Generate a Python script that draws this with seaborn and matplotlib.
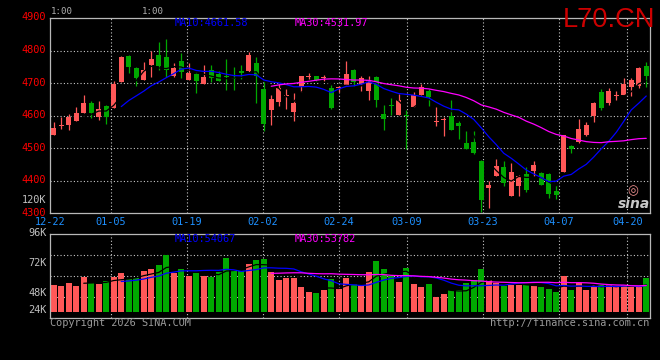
import numpy as np
import pandas as pd
import matplotlib
matplotlib.use("Agg")
import matplotlib.pyplot as plt
from matplotlib.transforms import ScaledTranslation
import seaborn as sns

# ============================
# DATA
# ============================
DATES = ["12-22", "01-05", "01-19", "02-02", "02-24", "03-09", "03-23", "04-07", "04-20"]
DATE_IDX = [0, 8, 18, 28, 38, 47, 57, 67, 76]

OPEN = [4540, 4569, 4570, 4583, 4607, 4640, 4596, 4630, 4623, 4703,
        4783, 4746, 4711, 4756, 4787, 4781, 4723, 4769, 4708, 4727,
        4696, 4739, 4727, 4723, 4717, 4737, 4737, 4761, 4681, 4616,
        4642, 4660, 4611, 4688, 4720, 4721, 4715, 4685, 4684, 4693,
        4739, 4693, 4677, 4718, 4604, 4631, 4601, 4600, 4626, 4664,
        4677, 4580, 4587, 4598, 4577, 4516, 4519, 4461, 4379, 4415,
        4441, 4354, 4385, 4420, 4430, 4424, 4420, 4369, 4428, 4506,
        4519, 4540, 4598, 4674, 4640, 4661, 4662, 4688, 4691, 4754]
HIGH = [4579, 4596, 4606, 4626, 4662, 4644, 4644, 4634, 4705, 4783,
        4785, 4749, 4766, 4800, 4827, 4834, 4762, 4792, 4762, 4734,
        4756, 4757, 4738, 4774, 4749, 4757, 4795, 4779, 4705, 4662,
        4698, 4681, 4669, 4723, 4732, 4721, 4726, 4693, 4693, 4767,
        4742, 4723, 4723, 4723, 4632, 4654, 4665, 4616, 4672, 4698,
        4681, 4626, 4596, 4647, 4583, 4552, 4552, 4463, 4399, 4466,
        4461, 4455, 4417, 4443, 4460, 4428, 4425, 4387, 4542, 4509,
        4591, 4579, 4642, 4681, 4685, 4677, 4715, 4715, 4749, 4764]
LOW = [4540, 4558, 4555, 4583, 4607, 4593, 4586, 4575, 4623, 4703,
       4732, 4691, 4711, 4720, 4739, 4718, 4720, 4716, 4708, 4670,
       4696, 4703, 4705, 4680, 4680, 4713, 4734, 4640, 4553, 4572,
       4630, 4619, 4583, 4674, 4713, 4706, 4706, 4619, 4674, 4691,
       4691, 4677, 4647, 4626, 4555, 4601, 4601, 4499, 4626, 4662,
       4630, 4568, 4538, 4555, 4528, 4499, 4481, 4305, 4317, 4415,
       4385, 4354, 4354, 4366, 4414, 4387, 4346, 4344, 4428, 4484,
       4516, 4538, 4581, 4616, 4634, 4647, 4662, 4660, 4685, 4688]
CLOSE = [4563, 4571, 4596, 4609, 4638, 4607, 4621, 4596, 4697, 4780,
         4749, 4715, 4741, 4774, 4754, 4739, 4746, 4734, 4731, 4706,
         4720, 4716, 4706, 4720, 4714, 4731, 4787, 4723, 4573, 4652,
         4685, 4663, 4639, 4721, 4723, 4711, 4718, 4623, 4687, 4728,
         4703, 4715, 4711, 4647, 4590, 4629, 4647, 4598, 4662, 4688,
         4657, 4583, 4590, 4555, 4568, 4499, 4484, 4341, 4387, 4446,
         4392, 4428, 4414, 4371, 4448, 4387, 4359, 4356, 4540, 4499,
         4560, 4570, 4639, 4623, 4677, 4664, 4696, 4708, 4746, 4721]
# volume in thousands
VOLUME_K = [55.4, 54.4, 57.0, 54.4, 61.8, 56.5, 55.7, 58.1, 61.8, 65.0,
            59.7, 60.5, 66.4, 68.2, 71.4, 79.4, 64.5, 68.2, 62.4, 65.0,
            62.4, 61.8, 65.8, 76.8, 67.2, 66.4, 72.2, 75.2, 76.2, 65.6,
            59.2, 60.8, 60.8, 53.8, 49.6, 49.0, 51.2, 60.2, 51.7, 60.5,
            55.7, 55.2, 65.6, 74.4, 68.0, 62.4, 57.6, 68.8, 56.0, 53.6,
            56.0, 45.6, 48.0, 51.2, 51.2, 56.8, 59.2, 68.0, 59.2, 56.8,
            54.4, 55.2, 55.2, 55.2, 54.1, 53.8, 51.7, 49.6, 62.4, 51.2,
            56.5, 51.2, 54.9, 54.9, 54.9, 53.3, 54.9, 53.8, 53.8, 60.8]

PRICE_TICKS = [4300, 4400, 4500, 4600, 4700, 4800, 4900]
VOL_TICKS = [48, 72, 96]
VOL_FLOOR = 33.6   # level the volume bars start from

df = pd.DataFrame({"open": OPEN, "high": HIGH, "low": LOW,
                   "close": CLOSE, "vol": VOLUME_K})
df["idx"] = np.arange(len(df))
N = len(df)
for w in (5, 10, 30):
    df[f"ma{w}"] = df["close"].rolling(w).mean()
    df[f"vma{w}"] = df["vol"].rolling(w).mean()

RED = "#FF5858"
GREEN = "#00A800"
GRID = "#C8C8C8"
up = df["close"] >= df["open"]
cols = np.where(up, RED, GREEN)

# ============================
# STYLE
# ============================
sns.set_theme(style="dark", rc={
    "figure.facecolor": "black", "axes.facecolor": "black",
    "savefig.facecolor": "black", "axes.edgecolor": "#B8B8B8",
    "axes.linewidth": 0.9, "axes.grid": False,
})
plt.rcParams["font.family"] = ["DejaVu Sans Mono"]

W, H = 660, 360
fig = plt.figure(figsize=(W / 100, H / 100), dpi=100)


def fx(x):
    return x / W


def fy(y):
    return 1 - y / H


ax = fig.add_axes([fx(50), fy(213.3), 600 / W, 195.3 / H])
axv = fig.add_axes([fx(50), fy(318), 600 / W, 84 / H])

grid_pos = [k * N / (N - 1) - 0.5 for k in DATE_IDX]
dot = (0, (1, 2))

# ============================
# PRICE PANEL
# ============================
ax.set_xlim(-0.5, N - 0.5)
ax.set_ylim(4300, 4900)
for p in PRICE_TICKS[1:-1]:
    ax.axhline(p, color=GRID, lw=0.8, ls=dot, zorder=0)
for g in grid_pos[1:]:
    ax.axvline(g, color=GRID, lw=0.8, ls=dot, zorder=0)

ax.vlines(df["idx"], df["low"], df["high"], colors=cols, lw=0.9, zorder=2)
body_lo = np.minimum(df["open"], df["close"])
body_h = np.maximum((df["close"] - df["open"]).abs(), 3)
ax.bar(df["idx"], body_h, bottom=body_lo, width=0.72, color=cols,
       lw=0, zorder=3)

for col, c in (("ma5", "black"), ("ma10", "#0000FF"), ("ma30", "#FF00FF")):
    d = df[["idx", col]].dropna()
    sns.lineplot(x=d["idx"], y=d[col], ax=ax, color=c, lw=0.9, zorder=4)

ax.set_yticks(PRICE_TICKS)
ax.set_yticklabels([str(p) for p in PRICE_TICKS], color="#FF0000", fontsize=7.4)
ax.set_xticks(grid_pos)
ax.set_xticklabels(DATES, color="#1E90FF", fontsize=7.4)
ax.tick_params(axis="y", length=0, pad=2.6)
ax.tick_params(axis="x", length=0, pad=2.6)
ax.set_xlabel("")
ax.set_ylabel("")

# ============================
# VOLUME PANEL
# ============================
axv.set_xlim(-0.5, N - 0.5)
axv.set_ylim(28.8, 96)
for f in (0.25, 0.5, 0.75):
    axv.plot([0, 1], [f, f], transform=axv.transAxes, color=GRID, lw=0.8,
             ls=dot, zorder=0)
for g in grid_pos[1:]:
    axv.axvline(g, color=GRID, lw=0.8, ls=dot, zorder=0)

axv.bar(df["idx"], df["vol"] - VOL_FLOOR, bottom=VOL_FLOOR, width=0.74,
        color=cols, lw=0, zorder=2)
for col, c in (("vma5", "black"), ("vma10", "#0000FF"), ("vma30", "#FF00FF")):
    d = df[["idx", col]].dropna()
    sns.lineplot(x=d["idx"], y=d[col], ax=axv, color=c, lw=0.9, zorder=4)

axv.set_yticks(VOL_TICKS)
axv.set_yticklabels([f"{v}K" for v in VOL_TICKS], color="#C0C0C0", fontsize=7.4)
axv.set_xticks([])
axv.tick_params(length=0, pad=2.6)
axv.set_xlabel("")
axv.set_ylabel("")

# value labels sit a little above their levels, as in the reference
lift = ScaledTranslation(0, 1.5 / 100, fig.dpi_scale_trans)
for lbl in ax.get_yticklabels() + axv.get_yticklabels():
    lbl.set_transform(lbl.get_transform() + lift)

# ============================
# TEXTS
# ============================
fs = 7.4
fig.text(fx(175), fy(23.5), "MA10:4661.58", color="#0000FF", fontsize=fs, va="center")
fig.text(fx(295), fy(23.5), "MA30:4531.97", color="#FF00FF", fontsize=fs, va="center")
fig.text(fx(175), fy(238.5), "MA10:54067", color="#0000FF", fontsize=fs, va="center")
fig.text(fx(295), fy(238.5), "MA30:53782", color="#FF00FF", fontsize=fs, va="center")
fig.text(fx(46.8), fy(200), "120K", color="#C0C0C0", fontsize=fs, va="center", ha="right")
fig.text(fx(46.8), fy(310), "24K", color="#C0C0C0", fontsize=fs, va="center", ha="right")
fig.text(fx(51), fy(12), "1:00", color="#B0B0B0", fontsize=6.6, va="center")
fig.text(fx(142), fy(12), "1:00", color="#B0B0B0", fontsize=6.6, va="center")
fig.text(fx(655), fy(26.7), "L70.CN", color="#CC0000", fontsize=19.6,
         family="Liberation Sans", ha="right", va="baseline")
fig.text(fx(50), fy(323.5), "Copyright 2026 SINA.COM", color="#9A9A9A",
         fontsize=fs, va="center")
fig.text(fx(649), fy(323.5), "http://finance.sina.com.cn", color="#9A9A9A",
         fontsize=fs, va="center", ha="right")
fig.text(fx(633), fy(191), "◎", color="#F09090", fontsize=9,
         family="DejaVu Sans", ha="center", va="center")
fig.text(fx(634), fy(204), "sina", color="#C8C8C8", fontsize=10,
         family="DejaVu Sans", weight="bold", style="italic", ha="center", va="center")

fig.savefig("out.png", dpi=100)
